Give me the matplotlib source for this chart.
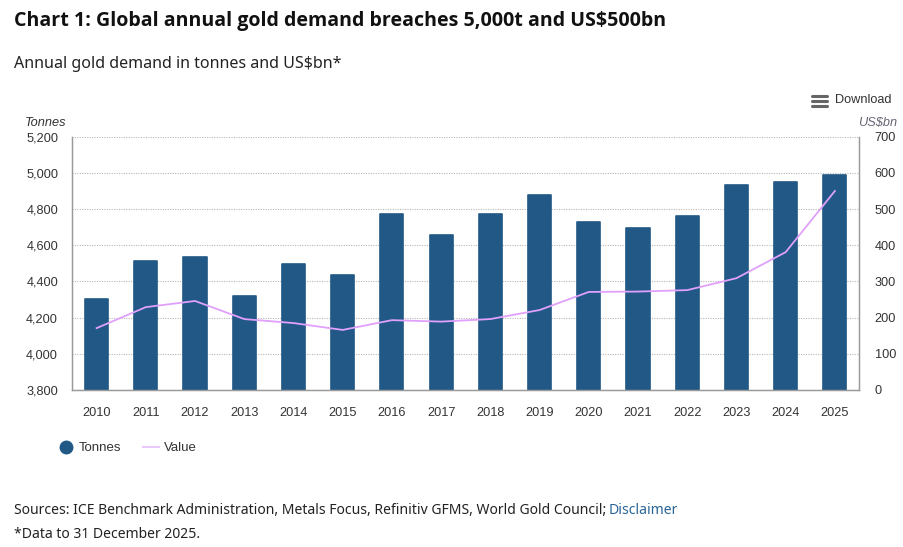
#!/usr/bin/env python3
import matplotlib
matplotlib.use("Agg")
import matplotlib.pyplot as plt
from matplotlib.lines import Line2D

years = [2010, 2011, 2012, 2013, 2014, 2015, 2016, 2017,
         2018, 2019, 2020, 2021, 2022, 2023, 2024, 2025]
tonnes = [4303, 4513, 4535, 4320, 4497, 4436, 4773, 4657,
          4773, 4878, 4729, 4695, 4762, 4933, 4950, 4989]
value = [171, 229, 246, 196, 185, 166, 193, 189,
         196, 221, 271, 272, 276, 309, 381, 550]
left_ticks = [3800, 4000, 4200, 4400, 4600, 4800, 5000, 5200]
right_ticks = [0, 100, 200, 300, 400, 500, 600, 700]

W, H = 904, 547
BAR = "#215886"
LINE = "#e0a0fb"
AXIS = "#9a9a9a"
TEXT = "#333333"
CHART_FONT = "Liberation Sans"
PAGE_FONT = "Noto Sans"
CHART_SIZE = 9.2


def px(x, y):
    """pixels in the picture -> figure fraction"""
    return x / W, 1 - y / H


fig = plt.figure(figsize=(W / 100, H / 100), dpi=100)
ax = fig.add_axes([72 / W, 1 - 390 / H, 787.5 / W, 253.3 / H])

x = list(range(len(years)))
ax.bar(x, tonnes, width=0.47, color=BAR, edgecolor=BAR, linewidth=1.2,
       joinstyle="round", label="Tonnes")
ax.set_xlim(-0.5, 15.5)
ax.set_ylim(3800, 5200)
ax.set_xticks(x)
ax.set_xticklabels(years)
ax.set_yticks(left_ticks)
ax.set_yticklabels([f"{t:,}" for t in left_ticks])
ax.set_axisbelow(True)
ax.grid(axis="y", color="#b8b8b8", linestyle=(0, (1, 1.2)), linewidth=0.8)

ax2 = ax.twinx()
ax2.plot(x, value, color=LINE, linewidth=1.3, label="Value")
ax2.set_ylim(0, 700)
ax2.set_yticks(right_ticks)

for a in (ax, ax2):
    a.spines["top"].set_visible(False)
    for side in ("left", "right", "bottom"):
        a.spines[side].set_color(AXIS)
        a.spines[side].set_linewidth(0.9)
    a.tick_params(length=0, labelsize=CHART_SIZE, labelcolor=TEXT)
    for lbl in a.get_xticklabels() + a.get_yticklabels():
        lbl.set_family(CHART_FONT)
ax.tick_params(axis="x", pad=12)
ax.tick_params(axis="y", pad=10)
ax2.tick_params(axis="y", pad=11)

# titre et textes de page
fig.text(*px(14, 21), "Chart 1: Global annual gold demand breaches 5,000t and US$500bn",
         family="Open Sans", fontweight="bold", fontsize=14.13, color="#111111", va="center")
fig.text(*px(14, 64), "Annual gold demand in tonnes and US$bn*",
         family=PAGE_FONT, fontsize=11.55, color="#222222", va="center")
fig.text(*px(14, 510), "Sources: ICE Benchmark Administration, Metals Focus, Refinitiv GFMS, "
         "World Gold Council; ", family=PAGE_FONT, fontsize=10.05, color="#222222", va="center")
fig.text(*px(609, 510), "Disclaimer", family=PAGE_FONT, fontsize=10.05, color="#2a6496", va="center")
fig.text(*px(14, 534), "*Data to 31 December 2025.",
         family=PAGE_FONT, fontsize=10.05, color="#222222", va="center")

# titres des axes
fig.text(*px(25, 123), "Tonnes", family=CHART_FONT, style="italic", fontsize=CHART_SIZE,
         color=TEXT, va="center")
fig.text(*px(897.5, 123), "US$bn", family=CHART_FONT, style="italic", fontsize=CHART_SIZE,
         color="#666677", va="center", ha="right")

# bouton Download
for y in (96, 101, 106.5):
    xa, ya = px(812.5, y)
    xb, _ = px(827.5, y)
    fig.add_artist(Line2D([xa, xb], [ya, ya], color="#666666", linewidth=2.2,
                          solid_capstyle="round"))
fig.text(*px(835.5, 100), "Download", family=CHART_FONT, fontsize=CHART_SIZE, color=TEXT, va="center")

# légende
handles = [
    Line2D([], [], linestyle="none", marker="o", markersize=9, color=BAR, label="Tonnes"),
    Line2D([], [], color="#eac8fa", linewidth=1.5, label="Value"),
]
leg = fig.legend(handles=handles, loc="center left", bbox_to_anchor=px(46, 448), ncol=2,
                 frameon=False, handlelength=1.2, handletextpad=0.4, columnspacing=1.65,
                 prop={"family": CHART_FONT, "size": 9.5}, labelcolor=TEXT)

fig.savefig("out.png", dpi=100)
